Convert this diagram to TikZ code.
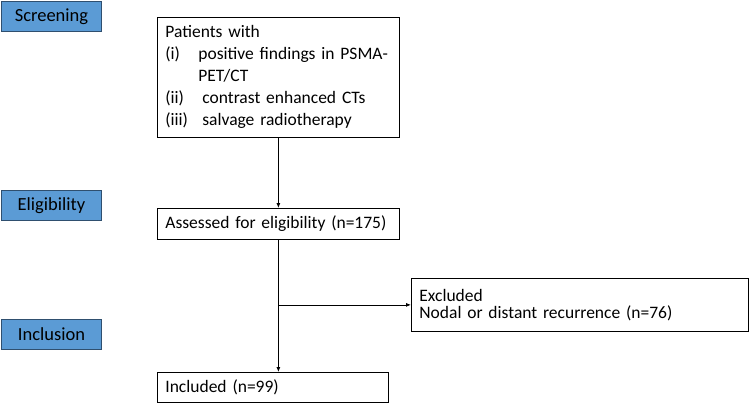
\documentclass[tikz,border=0pt]{standalone}
\usepackage{fontspec}
\setmainfont{Carlito}
\usetikzlibrary{arrows.meta}
\definecolor{stageblue}{HTML}{5B9BD5}
\definecolor{stageedge}{HTML}{2F4F6F}
\tikzset{
  stage/.style={draw=stageedge, fill=stageblue, line width=0.9pt, minimum width=100pt,
                minimum height=30pt, inner sep=0pt, anchor=north west, font=\fontsize{18.5}{20}\selectfont},
  flowbox/.style={draw, line width=0.8pt, inner sep=0pt, inner xsep=8pt, anchor=north west,
                  align=left, font=\fontsize{17.5}{20}\selectfont},
  flowarrow/.style={-{Latex[length=5pt,width=4pt]}, line width=0.8pt},
}

\begin{document}
\begin{tikzpicture}[x=1pt, y=-1pt]
    \useasboundingbox (0,0) rectangle (749,404);
    % stage labels
    \node[stage] (screening) at (1, 1) {Screening};
    \node[stage] (eligibility) at (1, 190) {Eligibility};
    \node[stage] (inclusion) at (1, 319) {Inclusion};
    % flow boxes
    \node[flowbox, minimum width=242pt, minimum height=120pt, text width=226pt,
          font=\fontsize{17.5}{22}\selectfont] (patients) at (157, 17)
      {Patients with\\
       \makebox[33pt][l]{(i)}positive findings in PSMA-\\
       \hspace*{33pt}PET/CT\\
       \makebox[37pt][l]{(ii)}contrast enhanced CTs\\
       \makebox[37pt][l]{(iii)}salvage radiotherapy};
    \node[flowbox, minimum width=242pt, minimum height=31pt, text width=226pt] (assessed) at (157, 208)
      {Assessed for eligibility (n=175)};
    \node[flowbox, minimum width=337pt, minimum height=53pt, text width=321pt,
          font=\fontsize{17.5}{17.5}\selectfont] (excluded) at (411, 278)
      {Excluded\\Nodal or distant recurrence (n=76)};
    \node[flowbox, minimum width=231pt, minimum height=30pt, text width=215pt] (included) at (157, 372)
      {Included (n=99)};
    % connectors
    \coordinate (branch) at (assessed.south |- excluded.west);
    \draw[flowarrow] (patients.south) -- (assessed.north);
    \draw[flowarrow] (assessed.south) -- (assessed.south |- included.north);
    \draw[flowarrow] (branch) -- (excluded.west);
  \end{tikzpicture}
\end{document}
